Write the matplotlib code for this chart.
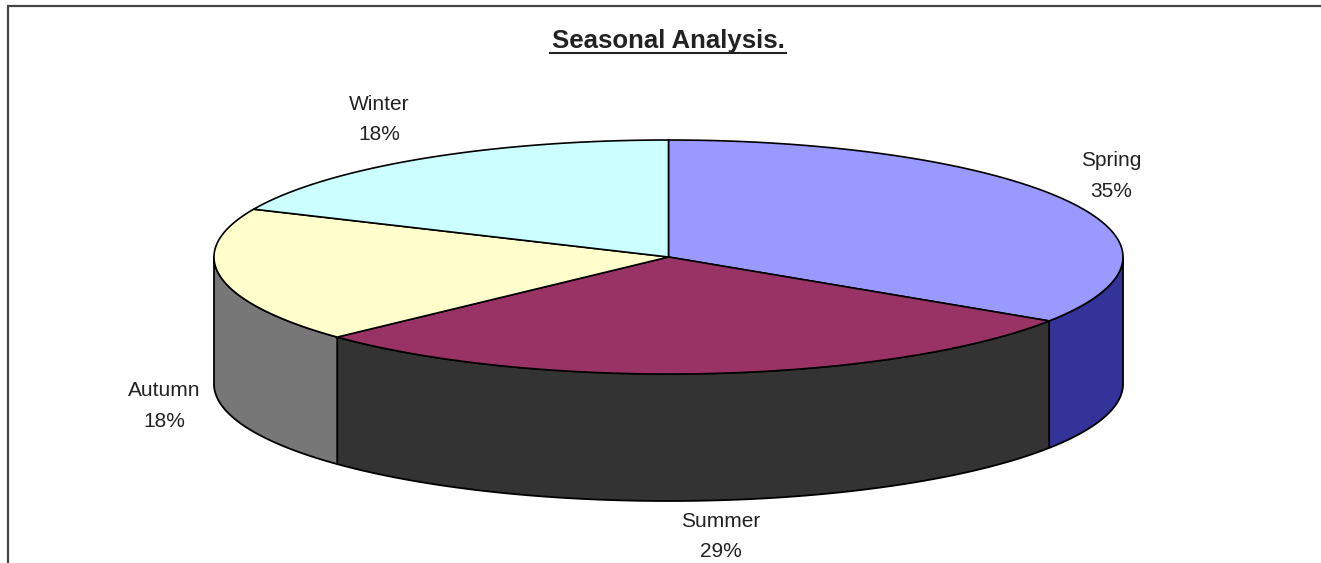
import numpy as np
import matplotlib
matplotlib.use('Agg')
import matplotlib.pyplot as plt

categories = ['Spring', 'Summer', 'Autumn', 'Winter']
shares = [34.2, 28.8, 18.7, 18.3]
pct_labels = ['35%', '29%', '18%', '18%']
top_colors = ['#9999ff', '#993366', '#ffffcc', '#ccffff']
side_colors = ['#333399', '#333333', '#777777', None]

CX, CY = 668.5, 257
RX, RY = 454.5, 117
DEPTH = 127
TEXT = '#222222'

plt.rcParams['font.family'] = ['Liberation Sans', 'DejaVu Sans']


def rim(a0, a1):
    # angles are degrees clockwise from 12 o'clock
    t = np.radians(np.linspace(a0, a1, 120))
    return CX + RX * np.sin(t), CY - RY * np.cos(t)


fig = plt.figure(figsize=(13.21, 5.63), dpi=100)
ax = fig.add_axes([0, 0, 1, 1])
ax.set_xlim(0, 1321)
ax.set_ylim(563, 0)
ax.axis('off')

# chart frame
ax.plot([7.5, 7.5, 1321], [563, 6, 6], color='#444444', lw=1.6, solid_joinstyle='miter')

ends = np.cumsum(shares) / np.sum(shares) * 360
starts = np.concatenate([[0], ends[:-1]])

# walls first, only the front half of the rim is visible
for a0, a1, col in zip(starts, ends, side_colors):
    if col is None:
        continue
    a0v, a1v = max(a0, 90), min(a1, 270)
    x, y = rim(a0v, a1v)
    ax.fill(np.r_[x, x[::-1]], np.r_[y, y[::-1] + DEPTH], facecolor=col,
            edgecolor='black', lw=1.3, joinstyle='round')

# top face
for a0, a1, col in zip(starts, ends, top_colors):
    x, y = rim(a0, a1)
    ax.fill(np.r_[CX, x], np.r_[CY, y], facecolor=col, edgecolor='black', lw=1.2)

# labels
label_xy = [(1111, 176), (721, 536.5), (164, 406), (379, 119.5)]
for name, pct, (lx, ly) in zip(categories, pct_labels, label_xy):
    ax.text(lx, ly, f'{name}\n{pct}', ha='center', va='center', fontsize=15,
            color=TEXT, linespacing=1.78)

# title, underline is a separate stroke
ax.text(668, 41, 'Seasonal Analysis.', ha='center', va='center', fontsize=18.5,
        fontweight='bold', color=TEXT)
ax.plot([550, 786], [53, 53], color=TEXT, lw=1.5)

fig.savefig('out.png', dpi=100, facecolor='white')
